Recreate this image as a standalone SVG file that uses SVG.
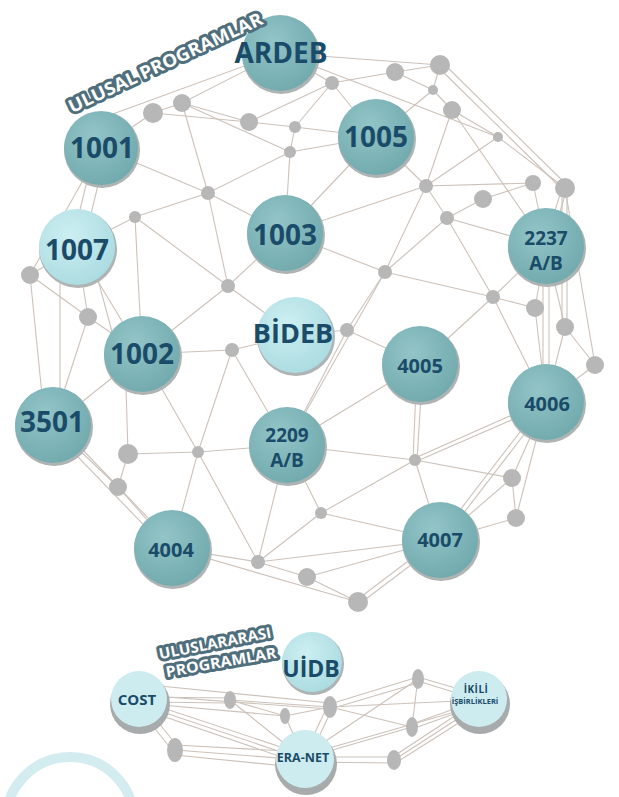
<svg xmlns="http://www.w3.org/2000/svg" width="619" height="797" viewBox="0 0 619 797">
<defs>
<radialGradient id="teal" cx="0.4" cy="0.35" r="0.7">
<stop offset="0" stop-color="#93c5c8"/>
<stop offset="1" stop-color="#70a9ad"/>
</radialGradient>
<radialGradient id="light" cx="0.4" cy="0.35" r="0.7">
<stop offset="0" stop-color="#cdeff2"/>
<stop offset="1" stop-color="#aadbe0"/>
</radialGradient>
</defs>
<style>
.e{stroke:#cdc2b9;stroke-width:1.1;fill:none}
.dot{fill:#b7b7b7}
.sh{fill:#aeb3b3}
.bsh{fill:#a8abab}
.t{fill:url(#teal)}
.l{fill:url(#light)}
.lb{fill:#cdecf0}
.lbl{font-family:'Open Sans','Liberation Sans',sans-serif;font-weight:bold;fill:#1a4b68;text-anchor:middle}
.rib{font-family:'Open Sans','Liberation Sans',sans-serif;font-weight:bold;fill:#ffffff;stroke:#4f6f7d;stroke-width:6;stroke-linejoin:round;paint-order:stroke;text-anchor:middle}
</style>
<rect width="619" height="797" fill="#ffffff"/>
<circle cx="70" cy="821" r="64" fill="none" stroke="#d2ecf0" stroke-width="10"/>
<g id="connectors">
<line class="e" x1="101" y1="148" x2="153" y2="113"/>
<line class="e" x1="110" y1="115" x2="280" y2="53"/>
<line class="e" x1="153" y1="113" x2="182" y2="103"/>
<line class="e" x1="153" y1="113" x2="249" y2="122"/>
<line class="e" x1="182" y1="103" x2="249" y2="122"/>
<line class="e" x1="182" y1="103" x2="290" y2="152"/>
<line class="e" x1="182" y1="103" x2="280" y2="53"/>
<line class="e" x1="182" y1="103" x2="208" y2="193"/>
<line class="e" x1="249" y1="122" x2="295" y2="127"/>
<line class="e" x1="249" y1="122" x2="332" y2="83"/>
<line class="e" x1="295" y1="127" x2="290" y2="152"/>
<line class="e" x1="295" y1="127" x2="376" y2="137"/>
<line class="e" x1="295" y1="127" x2="332" y2="83"/>
<line class="e" x1="290" y1="152" x2="285" y2="233"/>
<line class="e" x1="290" y1="152" x2="376" y2="137"/>
<line class="e" x1="290" y1="152" x2="208" y2="193"/>
<line class="e" x1="332" y1="83" x2="280" y2="53"/>
<line class="e" x1="332" y1="83" x2="395" y2="72"/>
<line class="e" x1="332" y1="83" x2="376" y2="137"/>
<line class="e" x1="280" y1="53" x2="440" y2="65"/>
<line class="e" x1="280" y1="53" x2="498" y2="137"/>
<line class="e" x1="395" y1="72" x2="440" y2="65"/>
<line class="e" x1="395" y1="72" x2="433" y2="90"/>
<line class="e" x1="440" y1="65" x2="433" y2="90"/>
<line class="e" x1="438" y1="67" x2="563" y2="190"/>
<line class="e" x1="443" y1="63" x2="568" y2="186"/>
<line class="e" x1="433" y1="90" x2="452" y2="110"/>
<line class="e" x1="433" y1="90" x2="376" y2="137"/>
<line class="e" x1="452" y1="110" x2="426" y2="186"/>
<line class="e" x1="452" y1="110" x2="498" y2="137"/>
<line class="e" x1="452" y1="110" x2="546" y2="246"/>
<line class="e" x1="498" y1="137" x2="426" y2="186"/>
<line class="e" x1="498" y1="137" x2="565" y2="188"/>
<line class="e" x1="426" y1="186" x2="376" y2="137"/>
<line class="e" x1="426" y1="186" x2="285" y2="233"/>
<line class="e" x1="426" y1="186" x2="533" y2="183"/>
<line class="e" x1="426" y1="186" x2="385" y2="272"/>
<line class="e" x1="426" y1="186" x2="447" y2="218"/>
<line class="e" x1="533" y1="183" x2="483" y2="199"/>
<line class="e" x1="533" y1="183" x2="546" y2="246"/>
<line class="e" x1="483" y1="199" x2="447" y2="218"/>
<line class="e" x1="447" y1="218" x2="546" y2="246"/>
<line class="e" x1="447" y1="218" x2="493" y2="297"/>
<line class="e" x1="447" y1="218" x2="385" y2="272"/>
<line class="e" x1="562" y1="188" x2="544" y2="246"/>
<line class="e" x1="567" y1="188" x2="550" y2="246"/>
<line class="e" x1="562" y1="188" x2="562" y2="327"/>
<line class="e" x1="567" y1="188" x2="567" y2="327"/>
<line class="e" x1="565" y1="188" x2="595" y2="365"/>
<line class="e" x1="385" y1="272" x2="285" y2="233"/>
<line class="e" x1="385" y1="272" x2="347" y2="330"/>
<line class="e" x1="385" y1="272" x2="493" y2="297"/>
<line class="e" x1="385" y1="272" x2="287" y2="445"/>
<line class="e" x1="493" y1="297" x2="546" y2="246"/>
<line class="e" x1="493" y1="297" x2="535" y2="308"/>
<line class="e" x1="493" y1="297" x2="420" y2="364"/>
<line class="e" x1="493" y1="297" x2="546" y2="402"/>
<line class="e" x1="535" y1="308" x2="546" y2="246"/>
<line class="e" x1="535" y1="308" x2="546" y2="402"/>
<line class="e" x1="565" y1="327" x2="546" y2="246"/>
<line class="e" x1="565" y1="327" x2="595" y2="365"/>
<line class="e" x1="565" y1="327" x2="546" y2="402"/>
<line class="e" x1="595" y1="365" x2="546" y2="402"/>
<line class="e" x1="543" y1="246" x2="543" y2="402"/>
<line class="e" x1="549" y1="246" x2="549" y2="402"/>
<line class="e" x1="347" y1="330" x2="295" y2="335"/>
<line class="e" x1="347" y1="330" x2="420" y2="364"/>
<line class="e" x1="347" y1="330" x2="287" y2="445"/>
<line class="e" x1="287" y1="445" x2="420" y2="364"/>
<line class="e" x1="287" y1="445" x2="415" y2="460"/>
<line class="e" x1="417" y1="364" x2="413" y2="460"/>
<line class="e" x1="423" y1="364" x2="417" y2="460"/>
<line class="e" x1="415" y1="458" x2="546" y2="400"/>
<line class="e" x1="415" y1="462" x2="546" y2="405"/>
<line class="e" x1="415" y1="460" x2="512" y2="478"/>
<line class="e" x1="415" y1="460" x2="440" y2="540"/>
<line class="e" x1="415" y1="460" x2="321" y2="513"/>
<line class="e" x1="321" y1="513" x2="440" y2="540"/>
<line class="e" x1="321" y1="513" x2="287" y2="445"/>
<line class="e" x1="321" y1="513" x2="258" y2="562"/>
<line class="e" x1="546" y1="402" x2="512" y2="478"/>
<line class="e" x1="546" y1="402" x2="516" y2="518"/>
<line class="e" x1="543" y1="402" x2="437" y2="540"/>
<line class="e" x1="549" y1="402" x2="443" y2="540"/>
<line class="e" x1="512" y1="478" x2="516" y2="518"/>
<line class="e" x1="512" y1="478" x2="440" y2="540"/>
<line class="e" x1="516" y1="518" x2="440" y2="540"/>
<line class="e" x1="440" y1="540" x2="307" y2="577"/>
<line class="e" x1="440" y1="537" x2="358" y2="599"/>
<line class="e" x1="440" y1="543" x2="358" y2="605"/>
<line class="e" x1="440" y1="540" x2="258" y2="562"/>
<line class="e" x1="307" y1="577" x2="358" y2="602"/>
<line class="e" x1="307" y1="577" x2="258" y2="562"/>
<line class="e" x1="172" y1="548" x2="258" y2="562"/>
<line class="e" x1="172" y1="548" x2="358" y2="602"/>
<line class="e" x1="198" y1="452" x2="258" y2="562"/>
<line class="e" x1="198" y1="452" x2="287" y2="445"/>
<line class="e" x1="198" y1="452" x2="172" y2="548"/>
<line class="e" x1="258" y1="562" x2="287" y2="445"/>
<line class="e" x1="95" y1="148" x2="71" y2="247"/>
<line class="e" x1="107" y1="148" x2="83" y2="247"/>
<line class="e" x1="101" y1="148" x2="208" y2="193"/>
<line class="e" x1="101" y1="148" x2="30" y2="275"/>
<line class="e" x1="77" y1="247" x2="30" y2="275"/>
<line class="e" x1="77" y1="247" x2="88" y2="317"/>
<line class="e" x1="77" y1="247" x2="142" y2="354"/>
<line class="e" x1="77" y1="247" x2="135" y2="217"/>
<line class="e" x1="60" y1="247" x2="60" y2="425"/>
<line class="e" x1="90" y1="250" x2="118" y2="354"/>
<line class="e" x1="135" y1="217" x2="142" y2="354"/>
<line class="e" x1="135" y1="217" x2="228" y2="286"/>
<line class="e" x1="135" y1="217" x2="208" y2="193"/>
<line class="e" x1="208" y1="193" x2="228" y2="286"/>
<line class="e" x1="208" y1="193" x2="285" y2="233"/>
<line class="e" x1="228" y1="286" x2="285" y2="233"/>
<line class="e" x1="228" y1="286" x2="295" y2="335"/>
<line class="e" x1="228" y1="286" x2="142" y2="354"/>
<line class="e" x1="30" y1="275" x2="88" y2="317"/>
<line class="e" x1="30" y1="275" x2="45" y2="425"/>
<line class="e" x1="88" y1="317" x2="53" y2="425"/>
<line class="e" x1="88" y1="317" x2="142" y2="354"/>
<line class="e" x1="142" y1="354" x2="232" y2="350"/>
<line class="e" x1="232" y1="350" x2="295" y2="335"/>
<line class="e" x1="232" y1="350" x2="198" y2="452"/>
<line class="e" x1="232" y1="350" x2="287" y2="445"/>
<line class="e" x1="142" y1="354" x2="53" y2="425"/>
<line class="e" x1="142" y1="354" x2="198" y2="452"/>
<line class="e" x1="125" y1="354" x2="128" y2="454"/>
<line class="e" x1="128" y1="454" x2="198" y2="452"/>
<line class="e" x1="128" y1="454" x2="118" y2="487"/>
<line class="e" x1="118" y1="487" x2="172" y2="548"/>
<line class="e" x1="53" y1="425" x2="118" y2="487"/>
<line class="e" x1="50" y1="428" x2="168" y2="550"/>
<line class="e" x1="56" y1="422" x2="174" y2="545"/>
<line class="e" x1="285" y1="233" x2="376" y2="137"/>
<line class="e" x1="139" y1="697" x2="230" y2="698"/>
<line class="e" x1="139" y1="702" x2="230" y2="703"/>
<line class="e" x1="139" y1="703" x2="285" y2="716"/>
<line class="e" x1="150" y1="685" x2="330" y2="703"/>
<line class="e" x1="139" y1="695" x2="330" y2="709"/>
<line class="e" x1="139" y1="700" x2="305" y2="755"/>
<line class="e" x1="139" y1="704" x2="305" y2="760"/>
<line class="e" x1="139" y1="708" x2="305" y2="765"/>
<line class="e" x1="136" y1="705" x2="172" y2="750"/>
<line class="e" x1="142" y1="702" x2="178" y2="747"/>
<line class="e" x1="175" y1="745" x2="305" y2="752"/>
<line class="e" x1="175" y1="750" x2="305" y2="760"/>
<line class="e" x1="175" y1="755" x2="305" y2="768"/>
<line class="e" x1="230" y1="700" x2="330" y2="707"/>
<line class="e" x1="230" y1="700" x2="305" y2="760"/>
<line class="e" x1="230" y1="700" x2="285" y2="716"/>
<line class="e" x1="285" y1="716" x2="330" y2="707"/>
<line class="e" x1="285" y1="716" x2="305" y2="760"/>
<line class="e" x1="327" y1="707" x2="302" y2="760"/>
<line class="e" x1="333" y1="707" x2="308" y2="760"/>
<line class="e" x1="330" y1="704" x2="418" y2="677"/>
<line class="e" x1="330" y1="709" x2="418" y2="683"/>
<line class="e" x1="330" y1="707" x2="412" y2="727"/>
<line class="e" x1="330" y1="707" x2="479" y2="700"/>
<line class="e" x1="418" y1="677" x2="479" y2="695"/>
<line class="e" x1="418" y1="681" x2="479" y2="700"/>
<line class="e" x1="412" y1="724" x2="479" y2="700"/>
<line class="e" x1="412" y1="729" x2="479" y2="705"/>
<line class="e" x1="418" y1="677" x2="412" y2="727"/>
<line class="e" x1="305" y1="757" x2="394" y2="757"/>
<line class="e" x1="305" y1="762" x2="394" y2="763"/>
<line class="e" x1="394" y1="756" x2="479" y2="700"/>
<line class="e" x1="394" y1="760" x2="479" y2="705"/>
<line class="e" x1="394" y1="764" x2="479" y2="710"/>
<line class="e" x1="305" y1="755" x2="479" y2="705"/>
<line class="e" x1="305" y1="755" x2="418" y2="679"/>
<line class="e" x1="305" y1="758" x2="412" y2="727"/>
</g>
<g id="d1"><circle class="dot" cx="153" cy="113" r="10"/></g>
<g id="d2"><circle class="dot" cx="182" cy="103" r="9"/></g>
<g id="d3"><circle class="dot" cx="249" cy="122" r="9"/></g>
<g id="d4"><circle class="dot" cx="295" cy="127" r="6"/></g>
<g id="d5"><circle class="dot" cx="290" cy="152" r="6"/></g>
<g id="d6"><circle class="dot" cx="332" cy="83" r="7"/></g>
<g id="d7"><circle class="dot" cx="208" cy="193" r="7"/></g>
<g id="d8"><circle class="dot" cx="395" cy="72" r="9"/></g>
<g id="d9"><circle class="dot" cx="440" cy="65" r="10"/></g>
<g id="d10"><circle class="dot" cx="433" cy="90" r="5"/></g>
<g id="d11"><circle class="dot" cx="452" cy="110" r="9"/></g>
<g id="d12"><circle class="dot" cx="498" cy="137" r="5"/></g>
<g id="d13"><circle class="dot" cx="426" cy="186" r="7"/></g>
<g id="d14"><circle class="dot" cx="533" cy="183" r="8"/></g>
<g id="d15"><circle class="dot" cx="565" cy="188" r="10"/></g>
<g id="d16"><circle class="dot" cx="483" cy="199" r="9"/></g>
<g id="d17"><circle class="dot" cx="447" cy="218" r="7"/></g>
<g id="d18"><circle class="dot" cx="385" cy="272" r="7"/></g>
<g id="d19"><circle class="dot" cx="493" cy="297" r="7"/></g>
<g id="d20"><circle class="dot" cx="535" cy="308" r="9"/></g>
<g id="d21"><circle class="dot" cx="565" cy="327" r="9"/></g>
<g id="d22"><circle class="dot" cx="347" cy="330" r="7"/></g>
<g id="d23"><circle class="dot" cx="595" cy="365" r="9"/></g>
<g id="d24"><circle class="dot" cx="415" cy="460" r="6"/></g>
<g id="d25"><circle class="dot" cx="512" cy="478" r="9"/></g>
<g id="d26"><circle class="dot" cx="516" cy="518" r="9"/></g>
<g id="d27"><circle class="dot" cx="321" cy="513" r="6"/></g>
<g id="d28"><circle class="dot" cx="307" cy="577" r="9"/></g>
<g id="d29"><circle class="dot" cx="358" cy="602" r="10"/></g>
<g id="d30"><circle class="dot" cx="135" cy="217" r="6"/></g>
<g id="d31"><circle class="dot" cx="30" cy="275" r="9"/></g>
<g id="d32"><circle class="dot" cx="88" cy="317" r="9"/></g>
<g id="d33"><circle class="dot" cx="228" cy="286" r="7"/></g>
<g id="d34"><circle class="dot" cx="232" cy="350" r="7"/></g>
<g id="d35"><circle class="dot" cx="128" cy="454" r="10"/></g>
<g id="d36"><circle class="dot" cx="198" cy="452" r="6"/></g>
<g id="d37"><circle class="dot" cx="118" cy="487" r="9"/></g>
<g id="d38"><circle class="dot" cx="258" cy="562" r="7"/></g>
<g id="b1"><ellipse class="dot" cx="230" cy="700" rx="6" ry="9"/></g>
<g id="b2"><ellipse class="dot" cx="285" cy="716" rx="5" ry="8"/></g>
<g id="b3"><ellipse class="dot" cx="330" cy="707" rx="7" ry="11"/></g>
<g id="b4"><ellipse class="dot" cx="175" cy="750" rx="8" ry="12"/></g>
<g id="b5"><ellipse class="dot" cx="418" cy="679" rx="6" ry="10"/></g>
<g id="b6"><ellipse class="dot" cx="412" cy="727" rx="6" ry="10"/></g>
<g id="b7"><ellipse class="dot" cx="394" cy="760" rx="7" ry="10"/></g>
<g id="ardeb"><circle class="sh" cx="281" cy="55" r="39"/><circle class="t" cx="280" cy="53" r="38"/><text class="lbl" x="281" y="63" font-size="28">ARDEB</text></g>
<g id="n1001"><circle class="sh" cx="102" cy="150" r="38"/><circle class="t" cx="101" cy="148" r="37"/><text class="lbl" x="102" y="158" font-size="28">1001</text></g>
<g id="n1005"><circle class="sh" cx="377" cy="139" r="39"/><circle class="t" cx="376" cy="137" r="38"/><text class="lbl" x="376" y="147" font-size="28">1005</text></g>
<g id="n1007"><circle class="sh" cx="78" cy="249" r="39"/><circle class="l" cx="77" cy="247" r="38"/><text class="lbl" x="77" y="260" font-size="28">1007</text></g>
<g id="n1003"><circle class="sh" cx="286" cy="235" r="39"/><circle class="t" cx="285" cy="233" r="38"/><text class="lbl" x="285" y="245" font-size="28">1003</text></g>
<g id="bideb"><circle class="sh" cx="296" cy="337" r="39"/><circle class="l" cx="295" cy="335" r="38"/><text class="lbl" x="293" y="343" font-size="27">BİDEB</text></g>
<g id="n1002"><circle class="sh" cx="143" cy="356" r="39"/><circle class="t" cx="142" cy="354" r="38"/><text class="lbl" x="142" y="364" font-size="28">1002</text></g>
<g id="n3501"><circle class="sh" cx="54" cy="427" r="39"/><circle class="t" cx="53" cy="425" r="38"/><text class="lbl" x="52" y="432" font-size="28">3501</text></g>
<g id="n2209"><circle class="sh" cx="288" cy="447" r="39"/><circle class="t" cx="287" cy="445" r="38"/><text class="lbl" x="287" y="442" font-size="19">2209</text><text class="lbl" x="287" y="467" font-size="19">A/B</text></g>
<g id="n2237"><circle class="sh" cx="547" cy="248" r="39"/><circle class="t" cx="546" cy="246" r="38"/><text class="lbl" x="546" y="245" font-size="19">2237</text><text class="lbl" x="546" y="270" font-size="19">A/B</text></g>
<g id="n4005"><circle class="sh" cx="421" cy="366" r="39"/><circle class="t" cx="420" cy="364" r="38"/><text class="lbl" x="420" y="373" font-size="20">4005</text></g>
<g id="n4006"><circle class="sh" cx="547" cy="404" r="39"/><circle class="t" cx="546" cy="402" r="38"/><text class="lbl" x="547" y="411" font-size="20">4006</text></g>
<g id="n4007"><circle class="sh" cx="441" cy="542" r="39"/><circle class="t" cx="440" cy="540" r="38"/><text class="lbl" x="440" y="547" font-size="20">4007</text></g>
<g id="n4004"><circle class="sh" cx="173" cy="550" r="39"/><circle class="t" cx="172" cy="548" r="38"/><text class="lbl" x="171" y="557" font-size="20">4004</text></g>
<g id="uidb"><circle class="sh" cx="313" cy="664" r="31"/><circle class="l" cx="312" cy="662" r="30"/><text class="lbl" x="311" y="677" font-size="23">UİDB</text></g>
<g id="cost"><circle class="bsh" cx="140" cy="704" r="30"/><circle class="lb" cx="139" cy="699" r="28"/><text class="lbl" x="137" y="705" font-size="15">COST</text></g>
<g id="eranet"><circle class="bsh" cx="306" cy="764" r="31"/><circle class="lb" cx="305" cy="759" r="29"/><text class="lbl" x="303" y="762" font-size="12.5">ERA-NET</text></g>
<g id="ikili"><circle class="bsh" cx="480" cy="704" r="30"/><circle class="lb" cx="479" cy="699" r="28"/><text class="lbl" x="476" y="693" font-size="10" letter-spacing="0.5">İKİLİ</text><text class="lbl" x="475" y="704" font-size="7.5">İŞBİRLİKLERİ</text></g>
<g id="label-ulusal"><text class="rib" transform="translate(165,62) rotate(-25)" x="0" y="7" font-size="18" textLength="212" lengthAdjust="spacingAndGlyphs">ULUSAL PROGRAMLAR</text></g>
<g id="label-uluslararasi"><text class="rib" transform="translate(215,643) rotate(-11)" x="0" y="5.5" font-size="15" textLength="114" lengthAdjust="spacingAndGlyphs">ULUSLARARASI</text><text class="rib" transform="translate(221,662) rotate(-10)" x="0" y="5.5" font-size="15" textLength="112" lengthAdjust="spacingAndGlyphs">PROGRAMLAR</text></g>
</svg>
